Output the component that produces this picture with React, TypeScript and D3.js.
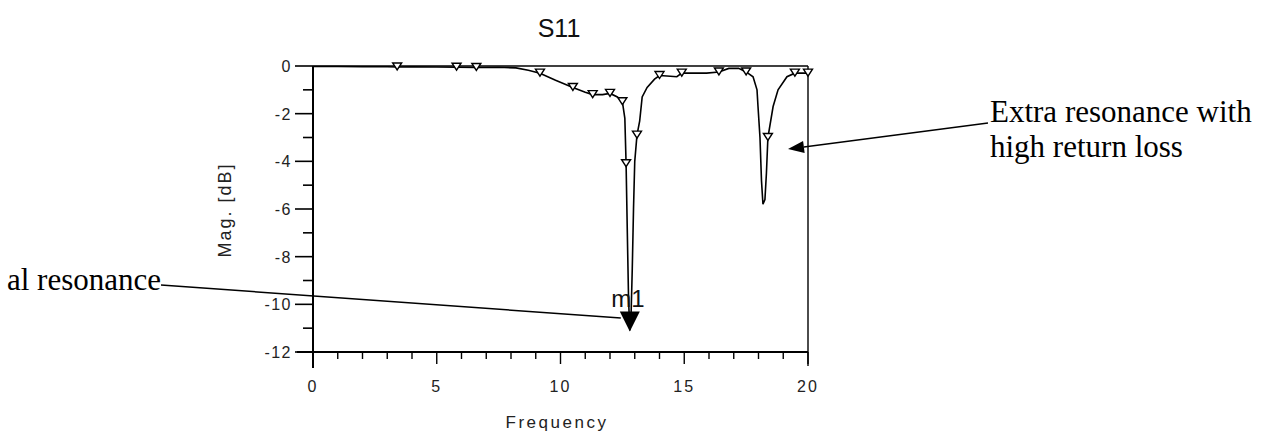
import React from 'react';
import * as d3 from 'd3';

// S11 trace (frequency in GHz, magnitude in dB)
const freq = [0, 1, 2, 3, 3.4, 4, 5, 5.8, 6.6, 7.5, 8.2, 8.7, 9.17, 9.8, 10.5, 11.0, 11.3, 11.7, 12.0, 12.3, 12.5, 12.6, 12.65, 12.7, 12.75, 12.8, 12.85, 12.9, 12.95, 13.0, 13.09, 13.2, 13.3, 13.5, 13.8, 14.0, 14.3, 14.7, 14.9, 15.3, 15.9, 16.4, 16.8, 17.2, 17.5, 17.78, 17.94, 17.98, 18.06, 18.12, 18.18, 18.26, 18.32, 18.38, 18.59, 18.79, 19.15, 19.47, 19.8, 20];
const mag = [-0.02, -0.02, -0.03, -0.03, -0.04, -0.03, -0.04, -0.05, -0.06, -0.05, -0.08, -0.18, -0.3, -0.6, -0.9, -1.1, -1.2, -1.2, -1.15, -1.3, -1.5, -2.2, -4.1, -7.0, -9.8, -11.1, -10.5, -8.5, -6.0, -4.0, -2.9, -2.3, -1.3, -0.9, -0.55, -0.4, -0.42, -0.45, -0.3, -0.3, -0.3, -0.25, -0.1, -0.1, -0.25, -0.45, -1.0, -1.7, -3.0, -4.8, -5.8, -5.6, -4.5, -3.0, -1.7, -1.0, -0.45, -0.3, -0.3, -0.3];

// hollow triangle markers along the trace
const markerFreq = [3.4, 5.8, 6.6, 9.17, 10.5, 11.3, 12.0, 12.5, 12.65, 13.09, 14.0, 14.9, 16.4, 17.5, 18.38, 19.47, 20];
const markerMag = [-0.04, -0.05, -0.06, -0.3, -0.9, -1.2, -1.15, -1.5, -4.1, -2.9, -0.4, -0.3, -0.25, -0.25, -3.0, -0.3, -0.3];

// marker m1
const m1Freq = 12.8;
const m1Mag = -11.1;

const xTicks = [0, 5, 10, 15, 20];
const xMinor = [1, 2, 3, 4, 6, 7, 8, 9, 11, 12, 13, 14, 16, 17, 18, 19];
const yTicks = [0, -2, -4, -6, -8, -10, -12];
const yMinor = [-1, -3, -5, -7, -9, -11];

const title = 'S11';
const xLabel = 'Frequency';
const yLabel = 'Mag. [dB]';
const note1 = 'al resonance';
const note2a = 'Extra resonance with';
const note2b = 'high return loss';

const sans = "'Liberation Sans', Arial, sans-serif";
const serif = "'Liberation Serif', 'Times New Roman', serif";

export default function App() {
  const W = 1261;
  const H = 437;
  const x = d3.scaleLinear().domain([0, 20]).range([313, 808]);
  const y = d3.scaleLinear().domain([0, -12]).range([66, 352]);

  const pts: [number, number][] = freq.map((f, i) => [f, mag[i]]);
  const line = d3
    .line<[number, number]>()
    .x((d) => x(d[0]))
    .y((d) => y(d[1]))
    .curve(d3.curveLinear);

  const x0 = x(0);
  const x1 = x(20);
  const yTop = y(0);
  const yBot = y(-12);

  const mx = x(m1Freq);
  const my = y(m1Mag);

  // arrow 2 geometry
  const a2tip: [number, number] = [788, 149];
  const a2start: [number, number] = [988, 123];
  const ang = Math.atan2(a2start[1] - a2tip[1], a2start[0] - a2tip[0]);
  const hl = 16;
  const hw = 6;
  const bx = a2tip[0] + hl * Math.cos(ang);
  const by = a2tip[1] + hl * Math.sin(ang);
  const head = [
    [a2tip[0], a2tip[1]],
    [bx - hw * Math.sin(ang), by + hw * Math.cos(ang)],
    [bx + hw * Math.sin(ang), by - hw * Math.cos(ang)],
  ]
    .map((p) => p.join(','))
    .join(' ');

  return (
    <svg
      width={W}
      height={H}
      style={{ position: 'absolute', left: 0, top: 0, background: '#fff' }}
    >
      <rect x={0} y={0} width={W} height={H} fill="#fff" />
      {/* title */}
      <text x={559} y={37} fontFamily={sans} fontSize={25} textAnchor="middle" fill="#111">
        {title}
      </text>

      {/* frame */}
      <line x1={x0} y1={yTop} x2={x1} y2={yTop} stroke="#000" strokeWidth={1.6} />
      <line x1={x1} y1={yTop} x2={x1} y2={yBot + 14} stroke="#000" strokeWidth={1.4} />
      <line x1={x0} y1={yTop} x2={x0} y2={yBot + 16} stroke="#000" strokeWidth={2} />
      <line x1={297} y1={yBot} x2={x1} y2={yBot} stroke="#000" strokeWidth={1.8} />

      {/* y ticks */}
      {yTicks.map((t) => (
        <g key={'yt' + t}>
          <line x1={295} y1={y(t)} x2={x0} y2={y(t)} stroke="#000" strokeWidth={1.6} />
          <text
            x={292}
            y={y(t) + 6}
            fontFamily={sans}
            fontSize={16}
            letterSpacing={1.5}
            textAnchor="end"
            fill="#222"
          >
            {t}
          </text>
        </g>
      ))}
      {yMinor.map((t) => (
        <line key={'ym' + t} x1={303} y1={y(t)} x2={x0} y2={y(t)} stroke="#000" strokeWidth={1.6} />
      ))}

      {/* x ticks */}
      {xTicks.map((t) => (
        <g key={'xt' + t}>
          <line x1={x(t)} y1={yBot} x2={x(t)} y2={yBot + 12} stroke="#000" strokeWidth={1.4} />
          <text
            x={x(t)}
            y={392}
            fontFamily={sans}
            fontSize={16}
            letterSpacing={2}
            textAnchor="middle"
            fill="#222"
          >
            {t}
          </text>
        </g>
      ))}
      {xMinor.map((t) => (
        <line key={'xm' + t} x1={x(t)} y1={yBot} x2={x(t)} y2={yBot + 7} stroke="#000" strokeWidth={1.4} />
      ))}

      {/* axis labels */}
      <text
        x={557}
        y={428}
        fontFamily={sans}
        fontSize={17}
        letterSpacing={2.5}
        textAnchor="middle"
        fill="#222"
      >
        {xLabel}
      </text>
      <text
        transform={`translate(231,210) rotate(-90)`}
        fontFamily={sans}
        fontSize={18}
        letterSpacing={2}
        textAnchor="middle"
        fill="#222"
      >
        {yLabel}
      </text>

      {/* trace */}
      <path d={line(pts) || ''} fill="none" stroke="#000" strokeWidth={1.6} />
      {markerFreq.map((f, i) => {
        const cx = x(f);
        const cy = y(markerMag[i]);
        return (
          <path
            key={'mk' + i}
            d={`M${cx - 4.5},${cy - 4}L${cx + 4.5},${cy - 4}L${cx},${cy + 3}Z`}
            fill="#fff"
            stroke="#000"
            strokeWidth={1.4}
          />
        );
      })}

      {/* m1 marker */}
      <path d={`M${mx - 10},${my - 19}L${mx + 10},${my - 19}L${mx},${my + 1}Z`} fill="#000" />
      <text x={628} y={307} fontFamily={sans} fontSize={24} textAnchor="middle" fill="#111">
        m1
      </text>

      {/* annotation 1 */}
      <line x1={161} y1={285} x2={mx - 9} y2={318} stroke="#000" strokeWidth={1.5} />
      <text x={161} y={290} fontFamily={serif} fontSize={31} textAnchor="end" fill="#000">
        {note1}
      </text>

      {/* annotation 2 */}
      <line x1={a2start[0]} y1={a2start[1]} x2={bx} y2={by} stroke="#000" strokeWidth={1.5} />
      <polygon points={head} fill="#000" />
      <text x={990} y={122} fontFamily={serif} fontSize={31} fill="#000">
        {note2a}
      </text>
      <text x={990} y={157} fontFamily={serif} fontSize={31} fill="#000">
        {note2b}
      </text>
    </svg>
  );
}
